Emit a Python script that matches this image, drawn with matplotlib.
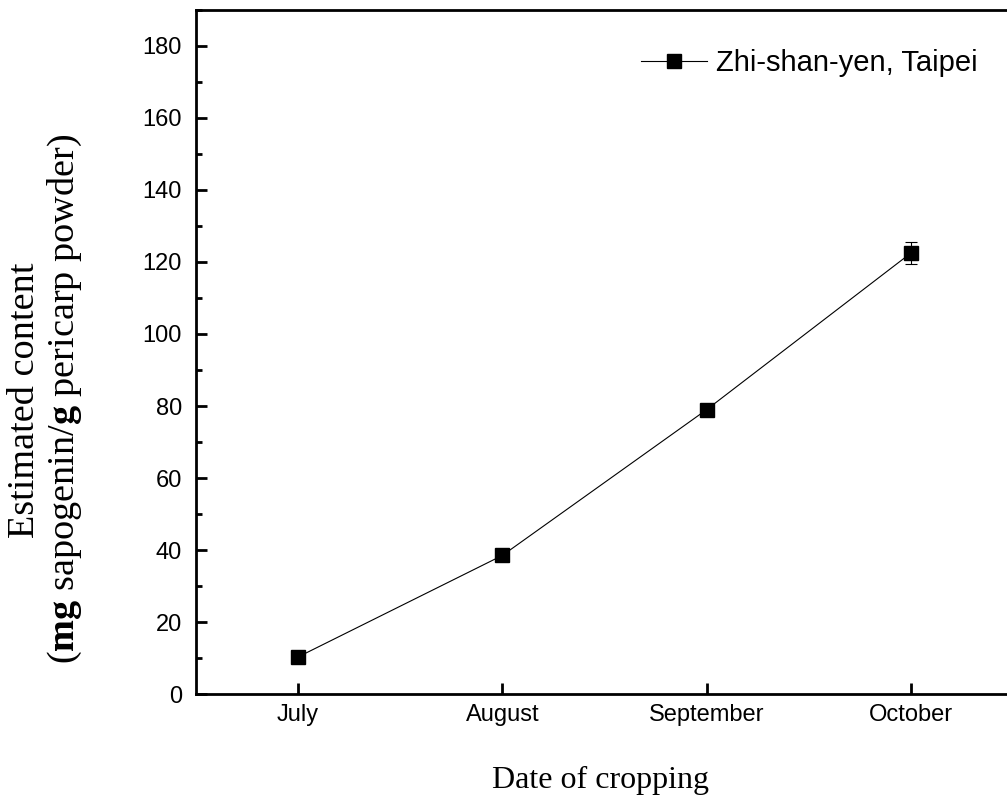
import matplotlib
matplotlib.use('Agg')
import matplotlib.pyplot as plt
from matplotlib.lines import Line2D
from matplotlib.ticker import MultipleLocator

# data
months = ['July', 'August', 'September', 'October']
content = [10.3, 38.5, 79.0, 122.5]
content_err = [0.8, 1.2, 1.0, 3.0]
series_name = 'Zhi-shan-yen, Taipei'

plt.rcParams['font.family'] = ['Liberation Sans', 'DejaVu Sans']
plt.rcParams['mathtext.fontset'] = 'custom'
plt.rcParams['mathtext.rm'] = 'Liberation Serif'
plt.rcParams['mathtext.bf'] = 'Liberation Serif:bold'

fig = plt.figure(figsize=(10.07, 7.98), dpi=100)
ax = fig.add_axes([0.1946, 0.1303, 0.8054, 0.8572])

x = list(range(len(months)))
ax.errorbar(x, content, yerr=content_err, color='black', lw=0.8,
            marker='s', markersize=9.5, elinewidth=0.8, capsize=4.5,
            capthick=0.8)

ax.set_xlim(-0.5, 3.47)
ax.set_ylim(0, 190)
ax.set_xticks(x)
ax.set_xticklabels(months)
ax.yaxis.set_major_locator(MultipleLocator(20))
ax.yaxis.set_minor_locator(MultipleLocator(10))

for s in ['left', 'bottom', 'top']:
    ax.spines[s].set_linewidth(2)
ax.spines['right'].set_visible(False)

ax.tick_params(axis='both', which='major', direction='in', length=8,
               width=2, labelsize=17, pad=7)
ax.tick_params(axis='y', which='major', pad=10)
ax.tick_params(axis='y', which='minor', direction='in', length=4, width=2)

# axis titles (serif)
fig.text(0.596, 0.0125, 'Date of cropping', family='Liberation Serif',
         fontsize=23, ha='center', va='baseline')
fig.text(0.0335, 0.4987, 'Estimated content', family='Liberation Serif',
         fontsize=27.5, rotation=90, rotation_mode='anchor',
         ha='center', va='baseline')
fig.text(0.0735, 0.500,
         r'($\mathbf{mg}$ sapogenin/$\mathbf{g}$ pericarp powder)',
         family='Liberation Serif', fontsize=27.5, rotation=90,
         rotation_mode='anchor', ha='center', va='baseline')

handle = Line2D([], [], color='black', lw=0.8, marker='s', markersize=9.5)
ax.legend([handle], [series_name], loc='center left',
          bbox_to_anchor=(0.6365, 0.921), bbox_transform=fig.transFigure,
          frameon=False, fontsize=21, handlelength=2.26, handletextpad=0.3,
          borderpad=0, borderaxespad=0)

fig.savefig('out.png', dpi=100)
